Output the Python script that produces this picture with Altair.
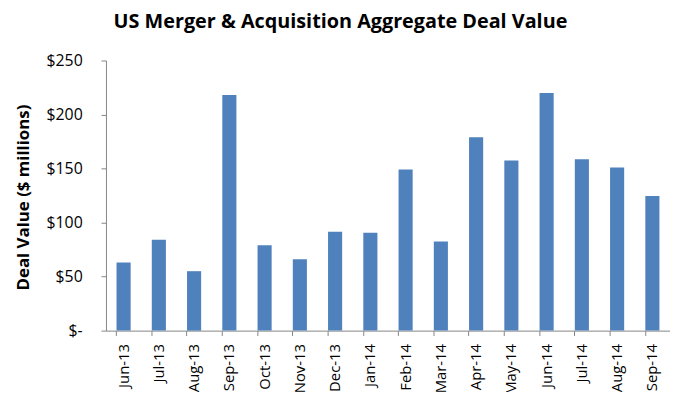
import altair as alt
import pandas as pd

months = ["Jun-13", "Jul-13", "Aug-13", "Sep-13", "Oct-13", "Nov-13", "Dec-13", "Jan-14",
          "Feb-14", "Mar-14", "Apr-14", "May-14", "Jun-14", "Jul-14", "Aug-14", "Sep-14"]
values = [63, 84, 55, 218, 79, 66, 91.5, 90.5, 149, 82.5, 179, 157.5, 220, 158.5, 151, 124.5]

df = pd.DataFrame({"Month": months, "Value": values})

FONT = "Open Sans"
AXIS_COLOR = "#868686"

chart = alt.Chart(df).mark_bar(color="#4F81BD").encode(
    x=alt.X("Month:N", sort=months, title=None,
            scale=alt.Scale(paddingInner=0.6, paddingOuter=0.3),
            axis=alt.Axis(labelAngle=-90, labelFontSize=15, labelColor="#000000",
                          labelFont=FONT, labelPadding=8, tickSize=5,
                          tickColor=AXIS_COLOR, domainColor=AXIS_COLOR,
                          bandPosition=0, grid=False)),
    y=alt.Y("Value:Q", title="Deal Value ($ millions)",
            scale=alt.Scale(domain=[0, 250]),
            axis=alt.Axis(values=[0, 50, 100, 150, 200, 250], grid=False,
                          labelExpr="datum.value == 0 ? '$-\u00a0\u00a0\u00a0' : '$' + datum.value",
                          labelFontSize=16, labelColor="#000000", labelFont=FONT,
                          labelPadding=19, tickSize=5, tickColor=AXIS_COLOR,
                          domainColor=AXIS_COLOR,
                          titleFont=FONT, titleFontSize=17, titleFontWeight="bold",
                          titleColor="#000000", titleX=-83, titleY=138,
                          titleAngle=-90, titleAlign="center", titleBaseline="middle")),
).properties(
    width=570,
    height=273,
    title=alt.TitleParams("US Merger & Acquisition Aggregate Deal Value",
                          font=FONT, fontSize=20, fontWeight="bold", color="#000000",
                          anchor="middle", dx=-48, offset=21),
    autosize=alt.AutoSizeParams(type="none"),
    padding={"left": 99, "top": 51, "right": 0, "bottom": 60},
).configure_view(stroke=None)

chart.save("out.html", embed_options={"renderer": "svg", "actions": False})
